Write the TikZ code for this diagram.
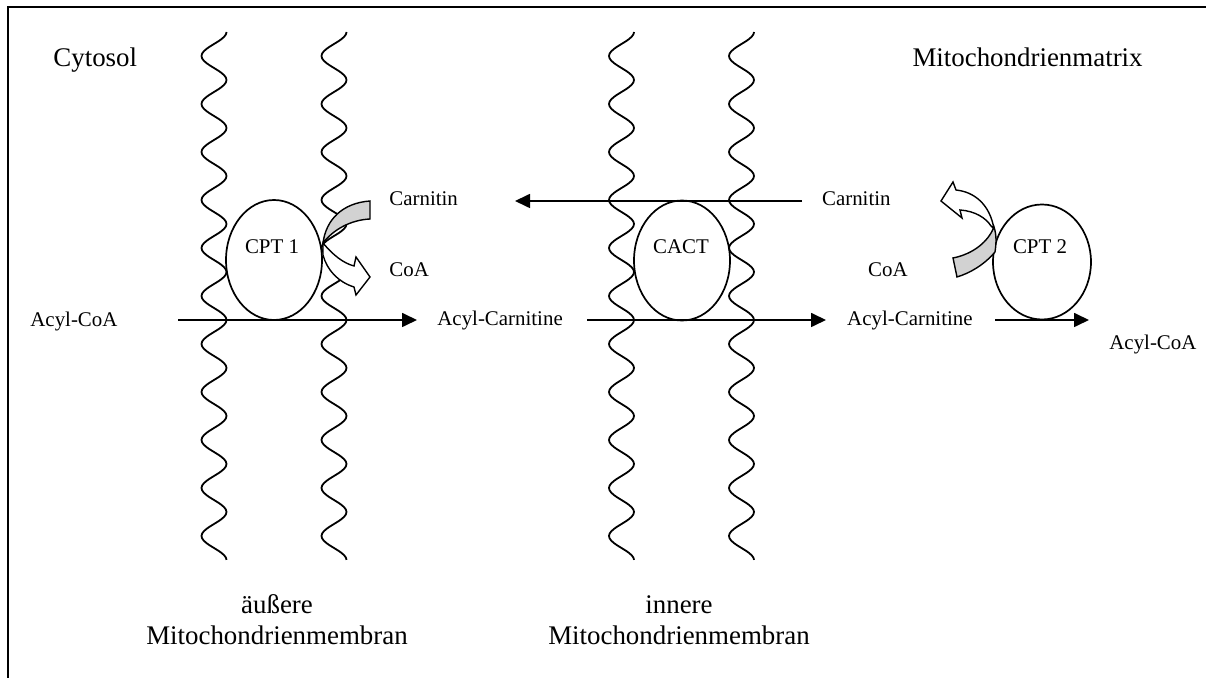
\documentclass[tikz,border=0pt]{standalone}
\usepackage{fontspec}
\setmainfont{Liberation Serif}
\usetikzlibrary{arrows.meta,shapes.geometric}
\definecolor{bandgray}{RGB}{210,210,210}
\begin{document}
\begin{tikzpicture}[x=0.5pt,y=-0.5pt,
  membrane/.style={line width=0.9pt, black},
  flow/.style={line width=0.85pt, -{Triangle[length=7.5pt,width=7pt]}},
  enzyme/.style={draw, ellipse, line width=0.85pt, inner sep=0pt},
  small/.style={inner sep=0pt, font=\fontsize{10.45}{12}\selectfont},
  big/.style={inner sep=0pt, font=\fontsize{13.45}{15.5}\selectfont},
  band/.style={draw, line width=0.7pt, fill=bandgray},
  blockarrow/.style={draw, line width=0.7pt, fill=white}]
\useasboundingbox (0,0) rectangle (1206,678);
% frame (top and left edges)
\draw[line width=1pt] (8,678) -- (8,7) -- (1206,7);
% membranes
\foreach \c in {214,334,621.5,741.5}
  \draw[membrane] plot[domain=0:11, samples=221, smooth, variable=\t] ({\c+12.5*cos(360*\t)}, {32+48*\t});
% enzymes
\node[enzyme, minimum width=48pt, minimum height=60pt] (cpt1) at (274,260) {};
\node[enzyme, minimum width=48pt, minimum height=60pt] (cact) at (682,260.5) {};
\node[enzyme, minimum width=49pt, minimum height=57.5pt] (cpt2) at (1042,262) {};
\node[small, anchor=base] (cpt1t) at (272,254) {CPT 1};
\node[small, anchor=base] (cactt) at (681,254) {CACT};
\node[small, anchor=base] (cpt2t) at (1040,254) {CPT 2};
% region labels
\node[big, anchor=base west] (cyto) at (53,67) {Cytosol};
\node[big, anchor=base east] (matrix) at (1143,67) {Mitochondrienmatrix};
\node[big, anchor=base, align=center] (outer) at (277,645) {äußere\\Mitochondrienmembran};
\node[big, anchor=base, align=center] (inner) at (679,645) {innere\\Mitochondrienmembran};
% metabolite labels
\node[small, anchor=base west] (acylcoa1) at (30,327) {Acyl-CoA};
\node[small, anchor=base west] (acylcar1) at (437,326) {Acyl-Carnitine};
\node[small, anchor=base east] (acylcar2) at (973,326) {Acyl-Carnitine};
\node[small, anchor=base west] (acylcoa2) at (1109,350) {Acyl-CoA};
\node[small, anchor=base west] (carn1) at (389,206) {Carnitin};
\node[small, anchor=base east] (carn2) at (891,206) {Carnitin};
\node[small, anchor=base west] (coa1) at (389,277) {CoA};
\node[small, anchor=base east] (coa2) at (908,277) {CoA};
% straight transport arrows
\coordinate (a1s) at (178,320); \coordinate (a1e) at (417,320);
\coordinate (a2s) at (587,320); \coordinate (a2e) at (826,320);
\coordinate (a3s) at (802,201); \coordinate (a3e) at (515,201);
\coordinate (a4s) at (995,320); \coordinate (a4e) at (1089,320);
\draw[flow] (a1s) -- (a1e);
\draw[flow] (a2s) -- (a2e);
\draw[flow] (a3s) -- (a3e);
\draw[flow] (a4s) -- (a4e);
% CPT1 curved arrows
\draw[band] (370,201) .. controls (342,203) and (326,220) .. (323,243)
  .. controls (333,230) and (350,220) .. (370,219) -- cycle;
\draw[blockarrow] (323,243) .. controls (333,255) and (343,263) .. (354,266)
  -- (356,257) -- (370,277) -- (356,295) -- (354,287)
  .. controls (338,282) and (327,270) .. (323,255) -- cycle;
% CPT2 curved arrows
\draw[blockarrow] (994,229) .. controls (990,205) and (975,192) .. (956,190)
  -- (953,182) -- (941,201) -- (962,218) -- (960,210)
  .. controls (975,211) and (986,218) .. (991,226) -- cycle;
\draw[band] (953,258) .. controls (973,254) and (988,242) .. (994,227)
  .. controls (997,236) and (996,245) .. (995,252)
  .. controls (984,265) and (970,273) .. (957,277) -- cycle;
\end{tikzpicture}
\end{document}
